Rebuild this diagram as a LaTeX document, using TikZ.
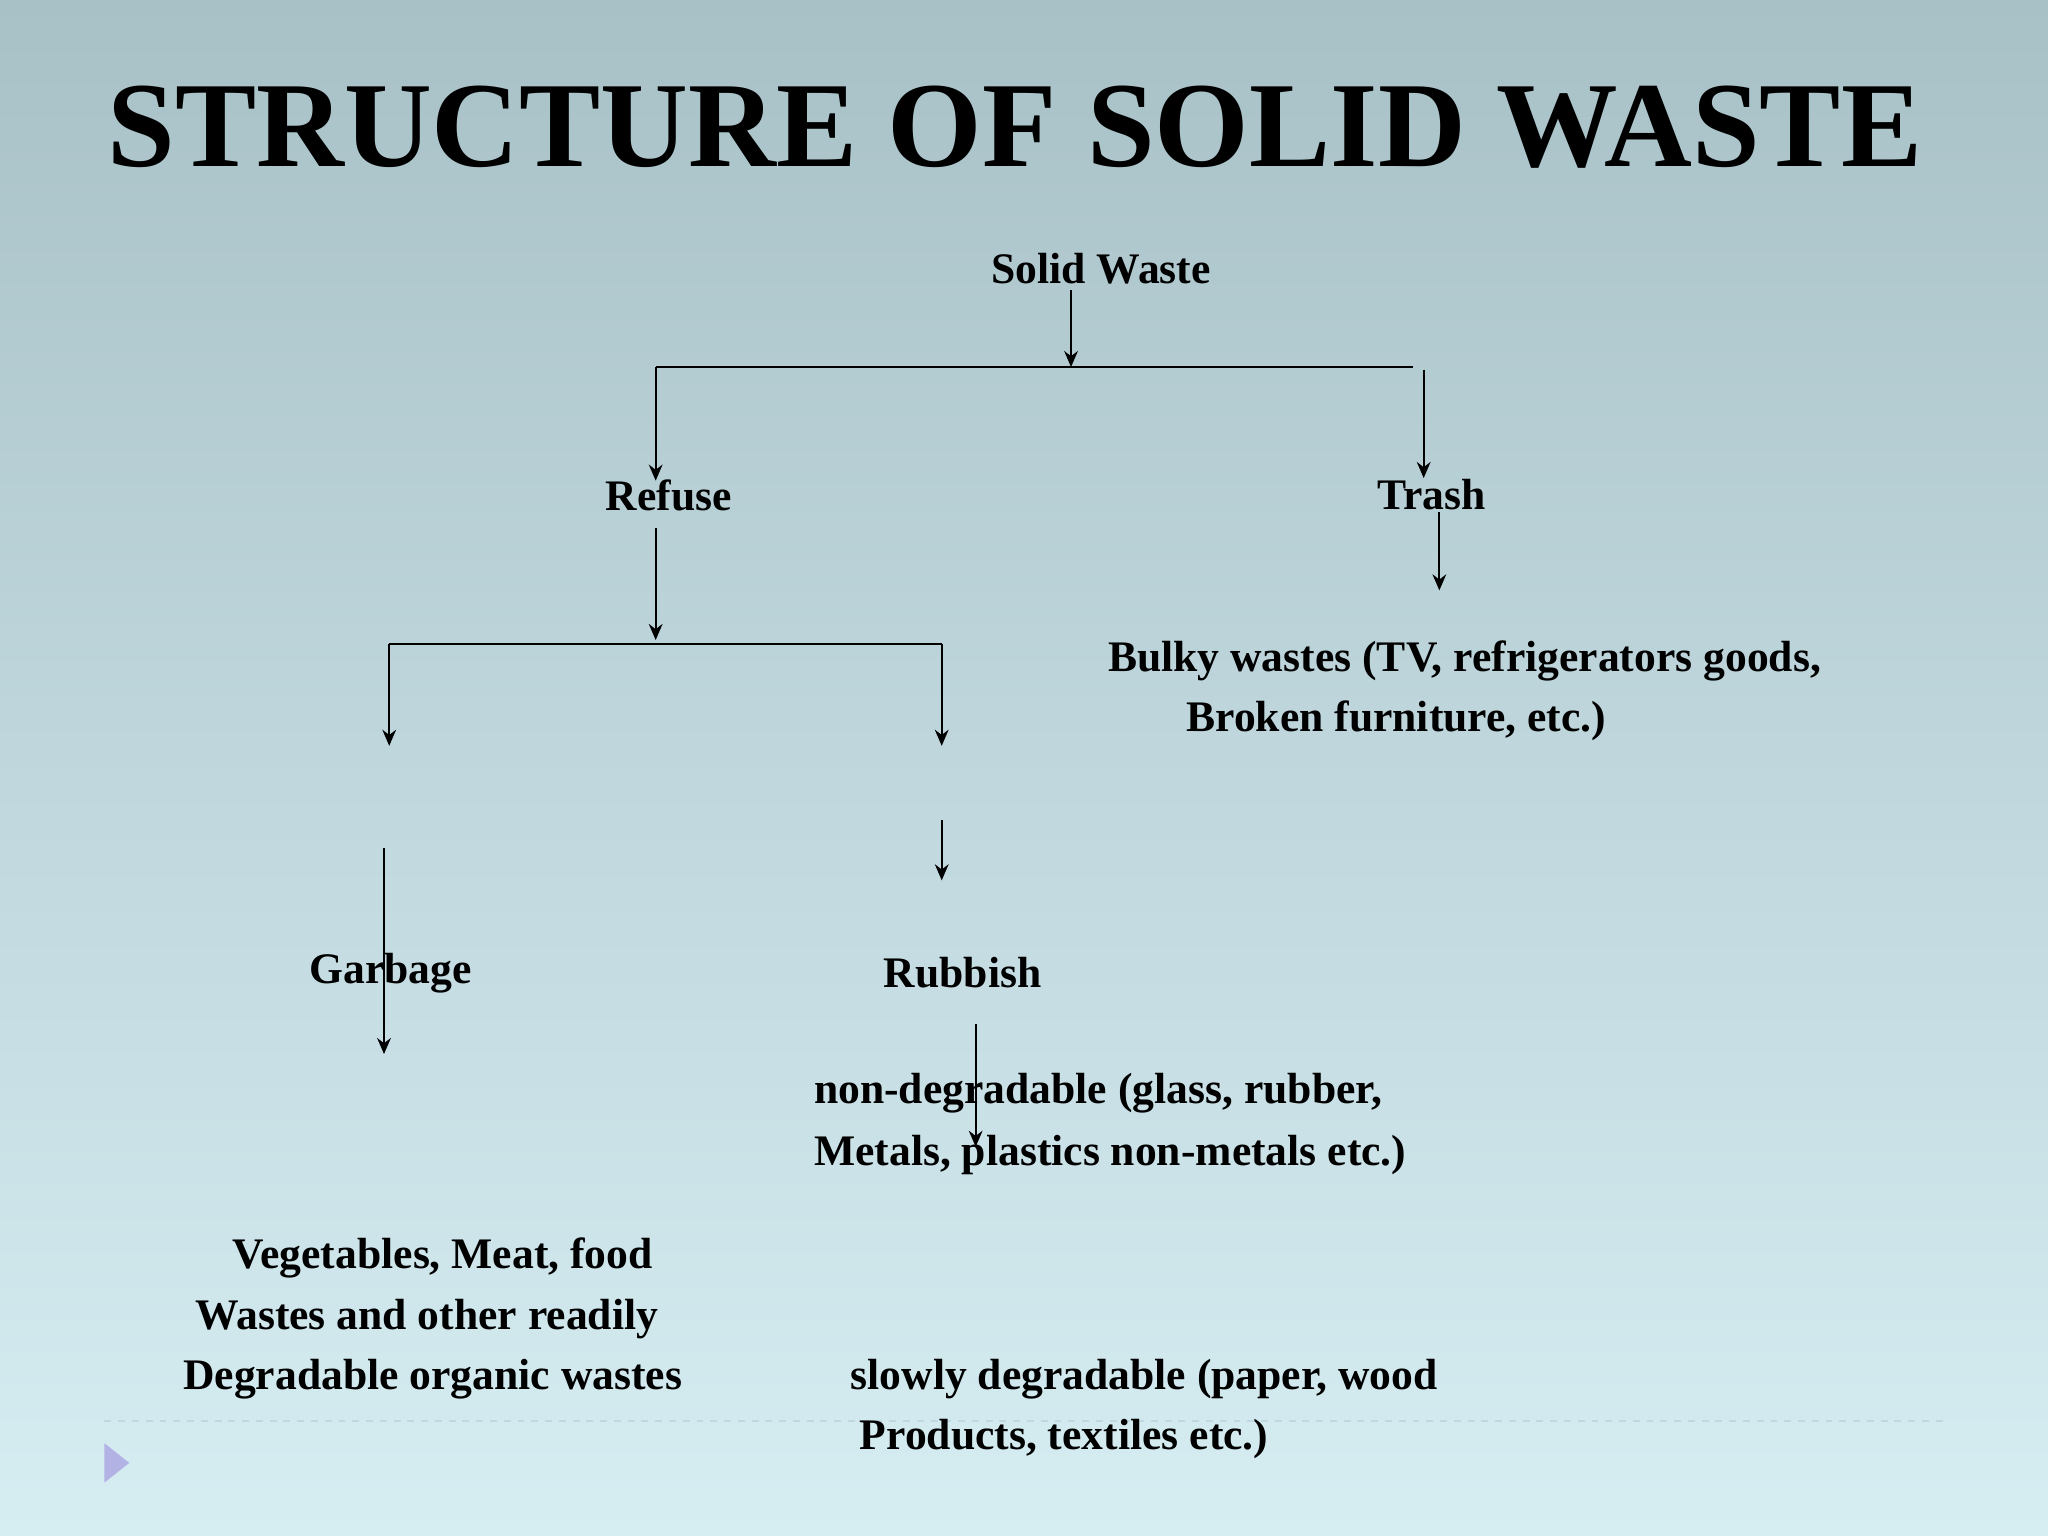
\documentclass[tikz,border=0pt]{standalone}
\usepackage{fontspec}
\setmainfont{Liberation Serif}
\usetikzlibrary{arrows.meta}
\definecolor{bgtop}{HTML}{A8C1C7}
\definecolor{bgbot}{HTML}{D6EDF2}
\begin{document}
\begin{tikzpicture}[x=0.02cm,y=-0.02cm,
  txt/.style={inner sep=0pt,font=\fontsize{19}{22}\selectfont\bfseries},
  ln/.style={line width=0.8pt,black},
  ar/.style={ln,-{Stealth[length=7pt,width=6pt]}}]
\shade[top color=bgtop,bottom color=bgbot] (0,0) rectangle (1568,1176);
\useasboundingbox (0,0) rectangle (1568,1176);
\draw[dashed,color=gray!60!cyan!40,line width=0.8pt] (80,1088) -- (1490,1088);
\fill[color=gray!50!blue!40] (80,1105) -- (99,1120) -- (80,1135) -- cycle;
\node[inner sep=0pt,font=\fontsize{53}{60}\selectfont\bfseries] (title) at (777,97) {STRUCTURE OF SOLID WASTE};
\node[txt] (sw) at (843,206) {Solid Waste};
\node[txt] (refuse) at (512,379) {Refuse};
\node[txt] (trash) at (1096,379) {Trash};
\node[txt,anchor=west] (bulky1) at (848,506) {Bulky wastes (TV, refrigerators goods,};
\node[txt,anchor=west] (bulky2) at (908,552) {Broken furniture, etc.)};
\node[txt] (garbage) at (299,745) {Garbage};
\node[txt] (rubbish) at (737,745) {Rubbish};
\node[txt,anchor=west] (nd1) at (623,837) {non-degradable (glass, rubber,};
\node[txt,anchor=west] (nd2) at (623,884) {Metals, plastics non-metals etc.)};
\node[txt,anchor=west] (veg1) at (178,963) {Vegetables, Meat, food};
\node[txt,anchor=west] (veg2) at (149,1010) {Wastes and other readily};
\node[txt,anchor=west] (veg3) at (140,1056) {Degradable organic wastes};
\node[txt,anchor=west] (sl1) at (651,1056) {slowly degradable (paper, wood};
\node[txt,anchor=west] (sl2) at (658,1102) {Products, textiles etc.)};
\coordinate (a1) at (820,222); \coordinate (a2) at (820,281);
\coordinate (h1) at (502,281); \coordinate (h2) at (1082,281);
\coordinate (r1) at (502,368);
\coordinate (t0) at (1090,283); \coordinate (t1) at (1090,366);
\coordinate (rf0) at (502,404); \coordinate (rf1) at (502,490);
\coordinate (g0) at (298,493); \coordinate (g1) at (298,571);
\coordinate (k0) at (721,493); \coordinate (k1) at (721,571);
\coordinate (k2) at (721,628); \coordinate (k3) at (721,674);
\coordinate (p0) at (294,649); \coordinate (p1) at (294,807);
\coordinate (q0) at (1102,392); \coordinate (q1) at (1102,452);
\coordinate (m0) at (747,784); \coordinate (m1) at (747,878);
\draw[ar] (a1) -- (a2);
\draw[ln] (h1) -- (h2);
\draw[ar] (h1) -- (r1);
\draw[ar] (t0) -- (t1);
\draw[ar] (rf0) -- (rf1);
\draw[ln] (g0) -- (k0);
\draw[ar] (g0) -- (g1);
\draw[ar] (k0) -- (k1);
\draw[ar] (k2) -- (k3);
\draw[ar] (p0) -- (p1);
\draw[ar] (q0) -- (q1);
\draw[ar] (m0) -- (m1);
\end{tikzpicture}
\end{document}
